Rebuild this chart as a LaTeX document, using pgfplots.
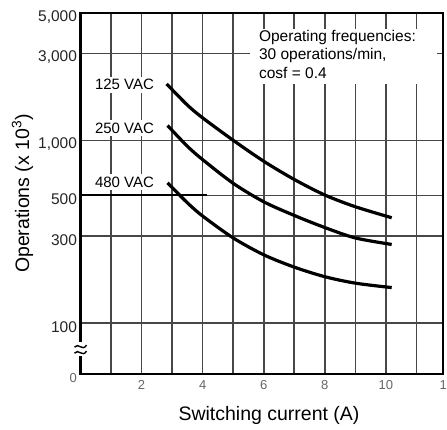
\documentclass[border=0pt]{standalone}
\usepackage{fontspec}
\setmainfont{Liberation Sans}
\usepackage{pgfplots}
\pgfplotsset{compat=1.18}

\begin{document}
\begin{tikzpicture}
\begin{axis}[
    scale only axis,
    width=362.5pt, height=361pt,
    at={(0,0)}, anchor=south west,
    clip=false,
    xmin=0, xmax=11.87,
    ymode=log, ymin=52.4, ymax=5000,
    xtick={2,4,6,8,10},
    xticklabels={2,4,6,8,10},
    minor xtick={1,3,5,7,9,11},
    ytick={100,300,500,1000,3000,5000},
    yticklabels={100,300,500,{1,000},{3,000},{5,000}},
    major tick length=0pt, minor tick length=0pt,
    xmajorgrids, xminorgrids, ymajorgrids, yminorgrids=false,
    major grid style={line width=1.6pt, color=black!72},
    minor grid style={line width=1.6pt, color=black!72},
    axis line style={line width=2.4pt},
    xticklabel style={font=\fontsize{13}{13}\selectfont, color=black!60, yshift=-3pt},
    yticklabel style={font=\fontsize{15.5}{16}\selectfont, color=black!85, yshift=-4pt},
    every axis x label/.style={at={(axis description cs:0.52,-0.115)}, anchor=center},
    every axis y label/.style={at={(axis description cs:-0.16,0.5)}, rotate=90, anchor=center},
    label style={font=\fontsize{19.5}{22}\selectfont},
    xlabel={Switching current (A)},
    ylabel={Operations (x 10\textsuperscript{3})},
]
% 125 VAC
\addplot[line width=3.2pt, smooth] coordinates {
    (2.82,2042) (3.5,1563) (4.0,1330) (5.0,1002) (6.0,769)
    (7.0,611) (8.0,502) (9.0,433) (10.19,377)
};
% 250 VAC
\addplot[line width=3.2pt, smooth] coordinates {
    (2.85,1208) (3.5,929) (4.0,785) (5.0,582) (6.0,461)
    (7.0,388) (8.0,333) (9.0,292) (10.19,269)
};
% 480 VAC
\addplot[line width=3.2pt, smooth] coordinates {
    (2.85,586) (3.5,455) (4.0,385) (5.0,292) (6.0,236)
    (7.0,202) (8.0,179) (9.0,165) (10.19,156)
};
\draw[line width=2.3pt] (axis cs:0,500) -- (axis cs:4.14,500);
\coordinate (boxA) at (rel axis cs:0.467,0.955);
\coordinate (boxB) at (rel axis cs:0.983,0.802);
\coordinate (boxT) at (rel axis cs:0.492,0.953);
\coordinate (l125) at (rel axis cs:0.21,0.801);
\coordinate (l250) at (rel axis cs:0.21,0.681);
\coordinate (l480) at (rel axis cs:0.21,0.531);
\node[anchor=north, font=\fontsize{13}{13}\selectfont, color=black!60, yshift=-3pt]
    at (axis cs:12,52.4) {12};
\node[anchor=east, font=\fontsize{13}{13}\selectfont, color=black!60, yshift=-4pt]
    at (rel axis cs:0,0) {0};
\coordinate (brk) at (rel axis cs:0,0.069);
\end{axis}
% note box and curve labels sit over the grid
\fill[white] (boxA) rectangle (boxB);
\node[anchor=north west, align=left, inner sep=0pt,
      font=\fontsize{15.5}{18.5}\selectfont]
    at (boxT) {Operating frequencies:\\30 operations/min,\\cosf = 0.4};
\node[anchor=east, fill=white, inner sep=2.5pt, font=\fontsize{15}{16}\selectfont]
    at (l125) {125 VAC};
\node[anchor=east, fill=white, inner sep=2.5pt, font=\fontsize{15}{16}\selectfont]
    at (l250) {250 VAC};
\node[anchor=east, fill=white, inner sep=2.5pt, font=\fontsize{15}{16}\selectfont]
    at (l480) {480 VAC};
% axis break
\begin{scope}[shift={(brk)}]
  \fill[white] (-3pt,-7pt) rectangle (3pt,7pt);
  \draw[line width=1.4pt] (-6pt,2pt) .. controls (-2pt,7pt) and (2pt,-3pt) .. (6pt,4pt);
  \draw[line width=1.4pt] (-6pt,-4pt) .. controls (-2pt,1pt) and (2pt,-9pt) .. (6pt,-2pt);
\end{scope}
\pgfresetboundingbox
\path[use as bounding box] (-80.5pt,-56pt) rectangle (366.5pt,374pt);
\end{tikzpicture}
\end{document}
